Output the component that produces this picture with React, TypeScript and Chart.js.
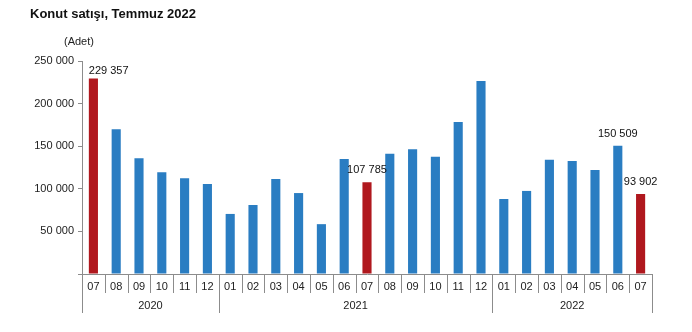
import React, { useEffect, useRef } from "react";
import { Chart, registerables } from "chart.js";

Chart.register(...registerables);

const title = "Konut satışı, Temmuz 2022";
const unitLabel = "(Adet)";
const categories = ["07","08","09","10","11","12","01","02","03","04","05","06","07","08","09","10","11","12","01","02","03","04","05","06","07"];
const values = [229357,170000,136000,119500,112500,105500,70500,81000,111500,95000,58500,135000,107785,141000,146500,137500,178500,226500,88000,97500,134000,132500,122000,150509,93902];
const yearLabels = ["2020","2021","2022"];
const yearSpans = [6,12,7];
const labeledIndices = [0,12,23,24];
const yTicks = [0,50000,100000,150000,200000,250000];

const BLUE = "rgb(42,125,194)";
const RED = "rgb(176,24,30)";
const AXIS = "#8c8c8c";
const FONT = "'Liberation Sans', Arial, sans-serif";

const fmt = (v: number) => String(v).replace(/\B(?=(\d{3})+(?!\d))/g, " ");

const overlay = {
  id: "overlay",
  afterDraw(chart: any) {
    const ctx = chart.ctx;
    const x = chart.scales.x;
    const area = chart.chartArea;
    ctx.save();
    // title
    ctx.fillStyle = "#111";
    ctx.font = `bold 13px ${FONT}`;
    ctx.textAlign = "left";
    ctx.textBaseline = "middle";
    ctx.fillText(title, 30, 14);
    ctx.font = `11px ${FONT}`;
    ctx.fillStyle = "#222";
    ctx.fillText(unitLabel, 64, 42);

    // x axis category separators and labels
    const step = x.getPixelForValue(1) - x.getPixelForValue(0);
    const bottom = area.bottom;
    ctx.strokeStyle = AXIS;
    ctx.lineWidth = 1;
    ctx.textAlign = "center";
    ctx.fillStyle = "#222";
    ctx.font = `11px ${FONT}`;
    categories.forEach((c, i) => {
      const cx = x.getPixelForValue(i);
      ctx.fillText(c, cx, bottom + 13);
      const lx = Math.round(cx + step / 2) + 0.5;
      ctx.beginPath();
      ctx.moveTo(lx, bottom);
      ctx.lineTo(lx, bottom + 19);
      ctx.stroke();
    });
    // year groups
    let start = 0;
    const edge = (i: number) => Math.round(x.getPixelForValue(i) - step / 2) + 0.5;
    ctx.beginPath();
    ctx.moveTo(edge(0), bottom);
    ctx.lineTo(edge(0), bottom + 39);
    ctx.stroke();
    yearLabels.forEach((y, gi) => {
      const end = start + yearSpans[gi];
      const l = x.getPixelForValue(start) - step / 2;
      const r = x.getPixelForValue(end - 1) + step / 2;
      ctx.fillText(y, (l + r) / 2, bottom + 31.5);
      const rx = Math.round(r) + 0.5;
      ctx.beginPath();
      ctx.moveTo(rx, bottom);
      ctx.lineTo(rx, bottom + 39);
      ctx.stroke();
      start = end;
    });

    // data labels
    const meta = chart.getDatasetMeta(0);
    ctx.fillStyle = "#111";
    labeledIndices.forEach((i) => {
      const bar = meta.data[i];
      const txt = fmt(values[i]);
      const w = ctx.measureText(txt).width;
      if (bar.x - w / 2 < area.left) {
        ctx.textAlign = "left";
        ctx.fillText(txt, bar.x - bar.width / 2, bar.y - 8);
      } else {
        ctx.textAlign = "center";
        ctx.fillText(txt, bar.x, bar.y - 12);
      }
    });
    ctx.restore();
  },
};

export default function App() {
  const ref = useRef<HTMLCanvasElement>(null);
  useEffect(() => {
    document.body.style.margin = "0";
    const chart = new Chart(ref.current!, {
      type: "bar",
      data: {
        labels: categories,
        datasets: [
          {
            data: values,
            backgroundColor: categories.map((c) => (c === "07" ? RED : BLUE)),
            barPercentage: 0.4,
            categoryPercentage: 1,
          },
        ],
      },
      options: {
        responsive: false,
        animation: false,
        layout: { padding: { top: 61, right: 40, left: 0, bottom: 0 } },
        plugins: { legend: { display: false }, tooltip: { enabled: false }, title: { display: false } },
        scales: {
          x: {
            grid: { display: false },
            border: { display: true, color: AXIS },
            ticks: { display: false },
            afterFit: (s: any) => { s.height = 58; },
          },
          y: {
            min: 0,
            max: 250000,
            afterBuildTicks: (s: any) => { s.ticks = yTicks.map((v) => ({ value: v })); },
            grid: { drawOnChartArea: false, tickLength: 4, color: AXIS },
            border: { display: true, color: AXIS },
            ticks: {
              padding: 4,
              color: "#222",
              font: { family: FONT, size: 11 },
              callback: (v: any) => (v === 0 ? "" : fmt(v)),
            },
            afterFit: (s: any) => { s.width = 82; },
          },
        },
      },
      plugins: [overlay],
    });
    return () => chart.destroy();
  }, []);
  return (
    <div style={{ position: "absolute", left: 0, top: 0 }}>
      <canvas ref={ref} width={692} height={332} style={{ display: "block" }} />
    </div>
  );
}
